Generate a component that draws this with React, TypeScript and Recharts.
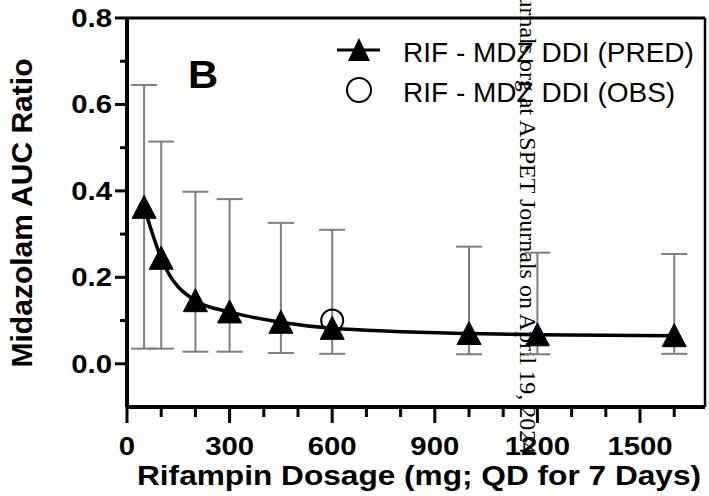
import {
  ComposedChart,
  Line,
  Scatter,
  XAxis,
  YAxis,
  ErrorBar,
  ReferenceLine,
  Legend,
  Customized,
} from 'recharts';

// rifampin dose (mg QD x 7 days) and predicted midazolam AUC ratio (mean, 5th / 95th pct)
const dosage = [50, 100, 200, 300, 450, 600, 1000, 1200, 1600];
const predRatio = [0.362, 0.244, 0.146, 0.12, 0.096, 0.082, 0.07, 0.067, 0.065];
const predLower = [0.035, 0.035, 0.028, 0.028, 0.025, 0.023, 0.022, 0.022, 0.023];
const predUpper = [0.645, 0.514, 0.398, 0.381, 0.326, 0.31, 0.271, 0.257, 0.254];

// observed clinical DDI
const obsDosage = [600];
const obsRatio = [0.1];

const xMajorTicks = [0, 300, 600, 900, 1200, 1500];
const xAllTicks = [0, 100, 200, 300, 400, 500, 600, 700, 800, 900, 1000, 1100, 1200, 1300, 1400, 1500, 1600];
const yMajorTicks = [0, 0.2, 0.4, 0.6, 0.8];
const yAllTicks = [0, 0.1, 0.2, 0.3, 0.4, 0.5, 0.6, 0.7, 0.8];

const predRows = dosage.map((d, i) => ({
  dose: d,
  ratio: predRatio[i],
  err: [predRatio[i] - predLower[i], predUpper[i] - predRatio[i]],
}));
const obsRows = obsDosage.map((d, i) => ({ dose: d, obs: obsRatio[i] }));

const FONT = 'Liberation Sans, Arial, sans-serif';
const SERIF = 'Liberation Serif, Times New Roman, serif';

const TriangleDot = (props: any) => {
  const { cx, cy } = props;
  if (cx == null || cy == null) return null;
  return (
    <polygon
      points={`${cx},${cy - 12} ${cx - 12},${cy + 11} ${cx + 12},${cy + 11}`}
      fill="#000"
      stroke="#000"
      strokeWidth={1}
    />
  );
};

const OpenCircle = (props: any) => {
  const { cx, cy } = props;
  return <circle cx={cx} cy={cy} r={11} fill="none" stroke="#000" strokeWidth={2} />;
};

const YTick = (props: any) => {
  const { x, y, payload } = props;
  const major = yMajorTicks.some((t) => Math.abs(t - payload.value) < 1e-6);
  return (
    <g>
      <line x1={x} x2={x - (major ? 12 : 7)} y1={y} y2={y} stroke="#000" strokeWidth={3} />
      {major && (
        <text
          transform={`translate(${x - 15},${y + 9}) scale(1.15,1)`}
          textAnchor="end"
          fontFamily={FONT}
          fontWeight="bold"
          fontSize={25.5}
          fill="#000"
        >
          {payload.value.toFixed(1)}
        </text>
      )}
    </g>
  );
};

const XTick = (props: any) => {
  const { x, y, payload } = props;
  const major = xMajorTicks.includes(payload.value);
  return (
    <g>
      <line x1={x} x2={x} y1={y} y2={y + (major ? 16 : 10)} stroke="#000" strokeWidth={3} />
      {major && (
        <text
          transform={`translate(${x},${y + 48}) scale(1.15,1)`}
          textAnchor="middle"
          fontFamily={FONT}
          fontWeight="bold"
          fontSize={25.5}
          fill="#000"
        >
          {payload.value}
        </text>
      )}
    </g>
  );
};

const LegendBox = (props: any) => {
  const { payload = [] } = props;
  // predicted series first, observed second
  const items = [...payload].sort((a: any, b: any) =>
    a.type === 'triangle' ? -1 : b.type === 'triangle' ? 1 : 0
  );
  return (
    <svg width={380} height={95}>
      {items.map((entry: any, i: number) => {
        const cy = 30 + i * 40;
        return (
          <g key={entry.value}>
            {entry.type === 'triangle' ? (
              <g>
                <line x1={7} x2={50} y1={cy} y2={cy} stroke="#000" strokeWidth={3} />
                <polygon points={`29,${cy - 12} 18,${cy + 11} 40,${cy + 11}`} fill="#000" />
              </g>
            ) : (
              <circle cx={29} cy={cy} r={12} fill="none" stroke="#000" strokeWidth={2} />
            )}
            <text x={73} y={cy + 12} fontFamily={FONT} fontSize={28} fill="#000">
              {entry.value}
            </text>
          </g>
        );
      })}
    </svg>
  );
};

const Annotations = () => (
  <g>
    <text
      transform="translate(188,88) scale(1.1,1)"
      fontFamily={FONT}
      fontWeight="bold"
      fontSize={38}
      fill="#000"
    >
      B
    </text>
    <text
      transform="translate(32,213) rotate(-90)"
      textAnchor="middle"
      fontFamily={FONT}
      fontWeight="bold"
      fontSize={30}
      fill="#000"
    >
      Midazolam AUC Ratio
    </text>
    <text
      transform="translate(419,485) scale(1.13,1)"
      textAnchor="middle"
      fontFamily={FONT}
      fontWeight="bold"
      fontSize={28}
      fill="#000"
    >
      Rifampin Dosage (mg; QD for 7 Days)
    </text>
    {/* journal download watermark */}
    <text
      transform="translate(520,115) rotate(90)"
      textAnchor="end"
      fontFamily={SERIF}
      fontSize={24}
      fill="#000"
    >
      Downloaded from jpet.aspetjournals.org at
    </text>
    <text transform="translate(520,120) rotate(90)" fontFamily={SERIF} fontSize={24} fill="#000">
      ASPET Journals on April 19, 2024
    </text>
  </g>
);

export default function App() {
  return (
    <div style={{ position: 'absolute', left: 0, top: 0, width: 709, height: 496, background: '#fff' }}>
      <ComposedChart
        width={709}
        height={496}
        data={predRows}
        margin={{ top: 18, right: 4, bottom: 0, left: 0 }}
      >
        <XAxis
          dataKey="dose"
          type="number"
          domain={[0, 1690]}
          ticks={xAllTicks}
          interval={0}
          height={89}
          tickSize={0}
          tickMargin={0}
          tickLine={false}
          axisLine={{ stroke: '#000', strokeWidth: 4 }}
          tick={XTick}
        />
        <YAxis
          type="number"
          domain={[-0.1, 0.8]}
          ticks={yAllTicks}
          interval={0}
          width={127}
          tickSize={0}
          tickMargin={0}
          tickLine={false}
          axisLine={{ stroke: '#000', strokeWidth: 4 }}
          tick={YTick}
        />
        <ReferenceLine y={0.8} stroke="#000" strokeWidth={3} />
        <ReferenceLine x={1690} stroke="#000" strokeWidth={2.5} />
        <Line
          name="RIF - MDZ DDI (PRED)"
          dataKey="ratio"
          type="monotone"
          stroke="#000"
          strokeWidth={3.5}
          legendType="triangle"
          dot={(p: any) => <TriangleDot key={`t${p.index}`} {...p} />}
          isAnimationActive={false}
        >
          <ErrorBar dataKey="err" direction="y" width={13} stroke="#7f7f7f" strokeWidth={2} />
        </Line>
        <Scatter
          name="RIF - MDZ DDI (OBS)"
          data={obsRows}
          dataKey="obs"
          legendType="circle"
          shape={OpenCircle}
          isAnimationActive={false}
        />
        <Legend
          layout="horizontal"
          verticalAlign="middle"
          align="center"
          content={LegendBox}
          wrapperStyle={{ left: 330, top: 20, width: 380, height: 95 }}
        />
        <Customized component={Annotations} />
      </ComposedChart>
    </div>
  );
}
